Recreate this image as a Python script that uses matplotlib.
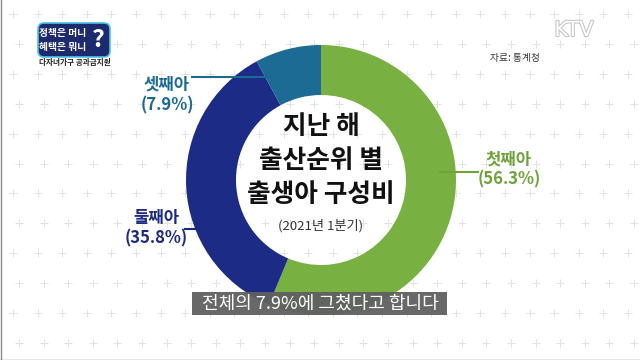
import numpy as np
import matplotlib.pyplot as plt
from matplotlib.patches import FancyBboxPatch, Rectangle
import matplotlib.patheffects as pe

plt.rcParams['font.family'] = ['Noto Sans CJK KR', 'DejaVu Sans']

# 데이터
orders = ['첫째아', '둘째아', '셋째아']
shares = [56.3, 35.8, 7.9]
ring_colors = ['#78b042', '#1c2b86', '#1b6b94']
label_colors = ['#6ea23a', '#1c2b80', '#1d6a91']

title_lines = ['지난 해', '출산순위 별', '출생아 구성비']
period = '(2021년 1분기)'
source = '자료: 통계청'
caption = '전체의 7.9%에 그쳤다고 합니다'

W, H = 640, 360


def Y(y):
    # 위에서부터 잰 픽셀 좌표를 축 좌표로
    return H - y


fig = plt.figure(figsize=(6.4, 3.6), dpi=100)
ax = fig.add_axes([0, 0, 1, 1])

# 배경의 + 무늬
rows = np.arange(14, H, 29.9)
for i, ry in enumerate(rows):
    xs = np.arange(13 + (i % 2) * 6, W, 24.6)
    ax.plot(xs, [Y(ry)] * len(xs), '+', color='#e2e2e2', ms=6, mew=0.7, zorder=0)

# 도넛 차트
cx, cy, r_out, r_in = 321, 180, 135, 85
ax.pie(shares, colors=ring_colors, startangle=90, counterclock=False,
       center=(cx, Y(cy)), radius=r_out, frame=True,
       wedgeprops=dict(width=r_out - r_in, linewidth=0))
ax.set_xlim(0, W)
ax.set_ylim(0, H)
ax.set_axis_off()

# 라벨과 지시선 (첫째, 둘째, 셋째 순)
label_pos = [(509, 160, 179), (156, 218, 238), (167, 85, 105)]
leader = [((440, 478), 172), ((185, 210), 229), ((192, 270), 77)]
for name, val, col, (lx, y1, y2), ((xa, xb), ly) in zip(orders, shares, label_colors, label_pos, leader):
    ax.text(lx, Y(y1), name, color=col, fontsize=12, fontweight='heavy', ha='center', va='center')
    ax.text(lx, Y(y2), f'({val}%)', color=col, fontsize=12, fontweight='heavy', ha='center', va='center')
    ax.plot([xa, xb], [Y(ly), Y(ly)], color=col, lw=1.5, zorder=3)

# 가운데 제목
for txt, ty in zip(title_lines, [127, 161, 195]):
    ax.text(cx, Y(ty), txt, fontsize=18.5, fontweight='black', color='#111111', ha='center', va='center')
ax.text(cx, Y(226), period, fontsize=9.5, color='#333333', ha='center', va='center')

# 출처, 로고
ax.text(515, Y(58), source, fontsize=7, color='#333333', ha='center', va='center')
ax.text(574, Y(30), 'KTV', fontsize=15, color='white', ha='center', va='center', family='DejaVu Sans',
        path_effects=[pe.withStroke(linewidth=1.5, foreground='#c4c4c4')])

box = FancyBboxPatch((38, Y(57)), 72, 34, boxstyle='round,pad=0,rounding_size=6',
                     fc='#1e2a6e', ec='#4fc3e8', lw=1.2, zorder=4)
ax.add_patch(box)
ax.text(63, Y(33), '정책은 머니', fontsize=7, fontweight='heavy', color='white', ha='center', va='center', zorder=5)
ax.text(63, Y(47), '혜택은 뭐니', fontsize=7, fontweight='heavy', color='white', ha='center', va='center', zorder=5)
ax.text(98, Y(40), '?', fontsize=18, fontweight='heavy', color='white', ha='center', va='center', zorder=5)
ax.text(75, Y(63), '다자녀가구 공과금지원', fontsize=5.5, fontweight='bold', color='#222222', ha='center', va='center')

# 자막
ax.add_patch(Rectangle((192, Y(315)), 255, 23, fc='#606060', alpha=0.95, zorder=6))
ax.text(320, Y(303.5), caption, fontsize=13, fontweight='medium', color='white', ha='center', va='center', zorder=7)

# 화면 테두리
ax.plot([0.5, 0.5], [0, H], color='#888888', lw=1)
ax.plot([0, W], [0.5, 0.5], color='#888888', lw=1)

fig.savefig('out.png', dpi=100)
